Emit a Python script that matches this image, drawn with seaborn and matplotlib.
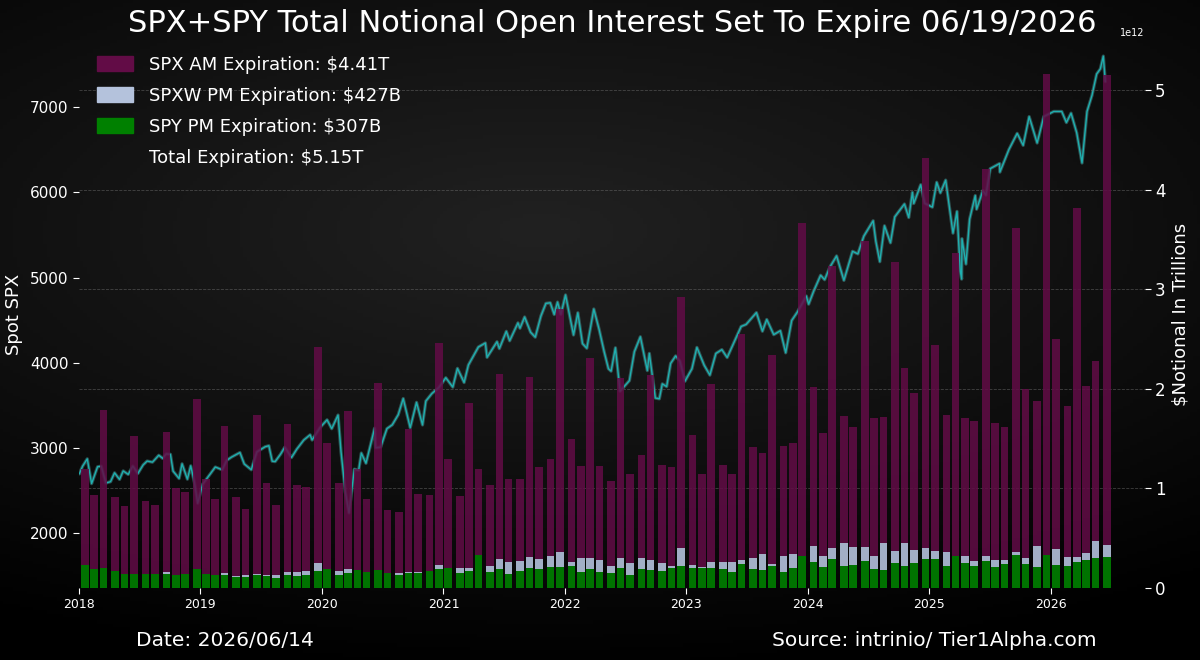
import numpy as np, pandas as pd, matplotlib
matplotlib.use("Agg")
import matplotlib.pyplot as plt
import matplotlib.dates as mdates
from matplotlib.patches import Patch
import seaborn as sns

# ==========================
# DATA
# ==========================
# monthly expirations Jan 2018 .. Jun 2026, notional in trillions of $
spy_pm = [
    .23, .19, .20, .17, .14, .14, .14, .14, .14, .13, .14, .19,   # 2018
    .14, .13, .13, .11, .11, .13, .12, .10, .13, .12, .13, .17,   # 2019
    .19, .13, .15, .18, .16, .18, .15, .13, .15, .15, .17, .19,   # 2020
    .20, .15, .17, .33, .16, .19, .14, .17, .20, .19, .21, .21,   # 2021
    .22, .16, .19, .16, .15, .20, .13, .19, .18, .17, .20, .22,   # 2022
    .20, .20, .20, .19, .16, .24, .19, .18, .22, .16, .20, .32,   # 2023
    .26, .21, .29, .22, .23, .27, .19, .18, .25, .22, .25, .29,   # 2024
    .29, .22, .32, .25, .22, .27, .21, .24, .33, .24, .21, .33,   # 2025
    .23, .22, .26, .28, .30, .31,                                 # 2026
]
spxw_pm = [
    0, 0, 0, 0, 0, 0, 0, 0, .02, 0, 0, 0,
    0, 0, .02, .01, .02, .01, .01, .03, .03, .04, .04, .08,
    0, .04, .04, 0, 0, 0, 0, .02, .01, .01, 0, .04,
    0, .05, .03, 0, .06, .10, .12, .10, .11, .10, .11, .15,
    .04, .14, .11, .12, .07, .10, .12, .11, .10, .08, .02, .18,
    .03, .01, .06, .07, .10, .04, .11, .16, .02, .16, .14, 0,
    .16, .11, .11, .23, .18, .14, .13, .27, .12, .23, .13, .11,
    .08, .14, 0, .07, .05, .05, .07, .04, .03, .06, .21, 0,
    .16, .09, .05, .07, .17, .12,
]
spx_am = [
    .97, .74, 1.59, .74, .68, 1.39, .73, .69, 1.41, .87, .82, 1.71,
    .95, .76, 1.48, .79, .66, 1.60, .92, .70, 1.49, .87, .84, 2.17,
    1.27, .88, 1.59, 1.02, .73, 1.88, .63, .61, 1.44, .78, .76, 2.23,
    1.10, .72, 1.66, .87, .81, 1.86, .84, .82, 1.81, .93, .98, 2.44,
    1.24, .93, 2.01, .95, .85, 1.81, .90, 1.04, 1.86, .99, 1.00, 2.52,
    1.31, .94, 1.79, .98, .89, 2.27, 1.12, 1.02, 2.10, 1.11, 1.12, 3.35,
    1.60, 1.24, 2.83, 1.28, 1.21, 3.07, 1.39, 1.27, 2.90, 1.76, 1.58, 3.92,
    2.07, 1.38, 3.04, 1.39, 1.41, 3.89, 1.38, 1.34, 3.26, 1.70, 1.46, 4.83,
    2.11, 1.52, 3.51, 1.68, 1.81, 4.72,
]

spx_dates = [
    "2018-01-02", "2018-01-12", "2018-01-26", "2018-02-08", "2018-02-26", "2018-03-09", "2018-03-23",
    "2018-04-06", "2018-04-18", "2018-05-03", "2018-05-14", "2018-05-29", "2018-06-12", "2018-06-27",
    "2018-07-13", "2018-07-25", "2018-08-10", "2018-08-29", "2018-09-10", "2018-09-20", "2018-10-03",
    "2018-10-11", "2018-10-29", "2018-11-07", "2018-11-23", "2018-12-03", "2018-12-14", "2018-12-24",
    "2019-01-08", "2019-01-25", "2019-02-15", "2019-03-08", "2019-03-21", "2019-04-05", "2019-04-30",
    "2019-05-13", "2019-06-03", "2019-06-20", "2019-07-15", "2019-07-26", "2019-08-05", "2019-08-14",
    "2019-08-30", "2019-09-12", "2019-10-02", "2019-10-18", "2019-11-08", "2019-11-27", "2019-12-03",
    "2019-12-27", "2020-01-17", "2020-01-31", "2020-02-19", "2020-02-28", "2020-03-12", "2020-03-23",
    "2020-04-08", "2020-04-21", "2020-04-29", "2020-05-13", "2020-06-08", "2020-06-11", "2020-06-26",
    "2020-07-15", "2020-07-31", "2020-08-18", "2020-09-02", "2020-09-23", "2020-10-12", "2020-10-30",
    "2020-11-09", "2020-11-27", "2020-12-18", "2021-01-08", "2021-01-29", "2021-02-12", "2021-03-04",
    "2021-03-17", "2021-04-16", "2021-05-07", "2021-05-12", "2021-06-11", "2021-06-18", "2021-07-09",
    "2021-07-19", "2021-08-13", "2021-08-19", "2021-09-02", "2021-09-20", "2021-10-04", "2021-10-21",
    "2021-11-05", "2021-11-18", "2021-11-30", "2021-12-10", "2021-12-20", "2022-01-03", "2022-01-27",
    "2022-02-09", "2022-02-23", "2022-03-08", "2022-03-29", "2022-04-14", "2022-04-29", "2022-05-12",
    "2022-05-20", "2022-06-02", "2022-06-16", "2022-07-14", "2022-07-29", "2022-08-16", "2022-09-06",
    "2022-09-12", "2022-09-30", "2022-10-12", "2022-10-21", "2022-11-03", "2022-11-15", "2022-11-30",
    "2022-12-13", "2022-12-28", "2023-01-18", "2023-02-02", "2023-02-24", "2023-03-13", "2023-03-31",
    "2023-04-18", "2023-05-04", "2023-05-19", "2023-06-15", "2023-06-30", "2023-07-31", "2023-08-18",
    "2023-08-31", "2023-09-21", "2023-10-11", "2023-10-27", "2023-11-14", "2023-12-01", "2023-12-28",
    "2024-01-04", "2024-01-19", "2024-02-09", "2024-02-21", "2024-03-08", "2024-03-28", "2024-04-19",
    "2024-05-15", "2024-05-31", "2024-06-18", "2024-07-16", "2024-07-24", "2024-08-05", "2024-08-19",
    "2024-09-06", "2024-09-19", "2024-10-18", "2024-10-31", "2024-11-11", "2024-11-15", "2024-12-06",
    "2024-12-18", "2025-01-10", "2025-01-23", "2025-02-03", "2025-02-19", "2025-03-13", "2025-03-25",
    "2025-04-04", "2025-04-08", "2025-04-09", "2025-04-21", "2025-05-02", "2025-05-19", "2025-05-23",
    "2025-06-11", "2025-06-20", "2025-07-03", "2025-07-31", "2025-08-01", "2025-08-28", "2025-09-22",
    "2025-10-10", "2025-10-28", "2025-11-21", "2025-12-11", "2026-01-10", "2026-02-03", "2026-02-17",
    "2026-03-03", "2026-03-20", "2026-04-05", "2026-04-20", "2026-05-05", "2026-05-19", "2026-05-30",
    "2026-06-08", "2026-06-14",
]
spx_values = [
    2695, 2786, 2872, 2581, 2779, 2786, 2588,
    2604, 2708, 2630, 2730, 2689, 2787, 2699,
    2801, 2846, 2833, 2914, 2877, 2930, 2925,
    2728, 2641, 2814, 2633, 2790, 2600, 2351,
    2574, 2665, 2776, 2743, 2854, 2893, 2946,
    2812, 2744, 2954, 3014, 3026, 2844, 2840,
    2926, 3009, 2887, 2986, 3093, 3154, 3093,
    3240, 3330, 3226, 3386, 2954, 2481, 2237,
    2750, 2737, 2940, 2820, 3232, 3002, 3009,
    3227, 3271, 3390, 3580, 3237, 3535, 3270,
    3550, 3638, 3709, 3824, 3714, 3934, 3768,
    3974, 4185, 4232, 4063, 4247, 4166, 4369,
    4258, 4468, 4405, 4537, 4358, 4300, 4549,
    4697, 4704, 4567, 4712, 4568, 4796, 4326,
    4587, 4225, 4170, 4631, 4392, 4132, 3930,
    3901, 4176, 3666, 3790, 4130, 4305, 3908,
    4110, 3586, 3577, 3752, 3720, 3992, 4080,
    4019, 3783, 3929, 4180, 3970, 3855, 4109,
    4154, 4061, 4191, 4426, 4450, 4589, 4370,
    4508, 4330, 4376, 4117, 4496, 4595, 4783,
    4688, 4840, 5027, 4975, 5124, 5254, 4967,
    5308, 5278, 5487, 5667, 5427, 5186, 5608,
    5408, 5713, 5864, 5705, 6001, 5870, 6090,
    5872, 5827, 6119, 5994, 6144, 5521, 5777,
    5074, 4982, 5457, 5158, 5686, 5963, 5802,
    6022, 5967, 6279, 6339, 6238, 6502, 6693,
    6552, 6890, 6580, 6890, 6950, 6950, 6820,
    6930, 6700, 6345, 6950, 7140, 7390, 7450,
    7600, 7300,
]

legend_labels = ["SPX AM Expiration: \\$4.41T", "SPXW PM Expiration: \\$427B",
                 "SPY PM Expiration: \\$307B", "Total Expiration: \\$5.15T"]

# ==========================
# STYLE
# ==========================
sns.set_style("dark")
plt.rcParams["font.family"] = ["DejaVu Sans"]
C_SPX, C_SPXW, C_SPY = "#620c46", "#b4c2dc", "#008000"
C_LINE, C_GLOW = "#1fb0b0", "#6fe6e6"

fig = plt.figure(figsize=(12, 6.6), dpi=100, facecolor="black")

# dark grunge-ish background
bg = fig.add_axes([0, 0, 1, 1], zorder=-10)
yy, xx = np.mgrid[0:1:200j, 0:1:360j]
r = np.sqrt(((xx - 0.45) * 1.2) ** 2 + ((yy - 0.35) * 1.6) ** 2)
bg.imshow(np.clip(0.13 - 0.12 * r, 0, 1), cmap="gray", vmin=0, vmax=1, aspect="auto")
bg.axis("off")

ax = fig.add_axes([0.0658, 0.109, 0.888, 0.830])
ax.set_facecolor("none")
ax2 = ax.twinx()
ax2.set_facecolor("none")

# SPX line with glow
spx = pd.DataFrame({"date": pd.to_datetime(spx_dates), "spx": spx_values})
ax.plot(spx["date"], spx["spx"], color=C_GLOW, lw=2.4, alpha=0.3, zorder=1)
sns.lineplot(data=spx, x="date", y="spx", ax=ax, color=C_LINE, lw=1.0, zorder=2)

# stacked monthly bars (third-Friday expirations)
exp_dates = pd.date_range("2018-01-01", "2026-06-30", freq="WOM-3FRI")
spy = np.array(spy_pm) * 1e12
spxw = np.array(spxw_pm) * 1e12
spxam = np.array(spx_am) * 1e12
w = 23
ax2.bar(exp_dates, spy, width=w, color=C_SPY, alpha=0.9, lw=0)
ax2.bar(exp_dates, spxw, bottom=spy, width=w, color=C_SPXW, alpha=0.9, lw=0)
ax2.bar(exp_dates, spxam, bottom=spy + spxw, width=w, color=C_SPX, alpha=0.85, lw=0)

# axes limits / ticks
ax.set_xlim(pd.Timestamp("2018-01-01"), pd.Timestamp("2026-10-10"))
ax.set_ylim(1355, 7786)
ax2.set_ylim(0, 5.5e12)
ax.xaxis.set_major_locator(mdates.YearLocator())
ax.xaxis.set_major_formatter(mdates.DateFormatter("%Y"))
ax.set_xlabel("")
ax.set_ylabel("Spot SPX", color="white", fontsize=13, labelpad=5)
ax2.set_ylabel("\\$Notional In Trillions", color="white", fontsize=13, labelpad=4)
ax.tick_params(axis="y", colors="white", labelsize=11, length=4, left=True)
ax.tick_params(axis="x", colors="white", labelsize=9, length=4, bottom=True)
ax2.tick_params(axis="y", colors="white", labelsize=12, length=4, right=True)
ax2.yaxis.get_offset_text().set_color("white")
ax2.yaxis.get_offset_text().set_fontsize(7)
ax.grid(False)
ax2.grid(axis="y", color="#777777", ls="--", lw=0.6, alpha=0.5)
ax2.grid(axis="x", visible=False)
for a in (ax, ax2):
    for s in a.spines.values():
        s.set_visible(False)

handles = [Patch(color=C_SPX), Patch(color=C_SPXW), Patch(color=C_SPY), Patch(color="none")]
leg = ax2.legend(handles, legend_labels, loc="upper left", bbox_to_anchor=(0.01, 0.985),
                 frameon=False, fontsize=13, handlelength=2.0, handleheight=0.85,
                 labelspacing=0.72, handletextpad=0.9, borderaxespad=0)
for t in leg.get_texts():
    t.set_color("white")

fig.text(0.51, 0.965, "SPX+SPY Total Notional Open Interest Set To Expire 06/19/2026",
         color="white", fontsize=22, ha="center", va="center")
fig.text(0.113, 0.03, "Date: 2026/06/14", color="white", fontsize=14.5, ha="left", va="center")
fig.text(0.914, 0.03, "Source: intrinio/ Tier1Alpha.com", color="white", fontsize=14.5,
         ha="right", va="center")

fig.savefig("out.png", dpi=100, facecolor="black")
